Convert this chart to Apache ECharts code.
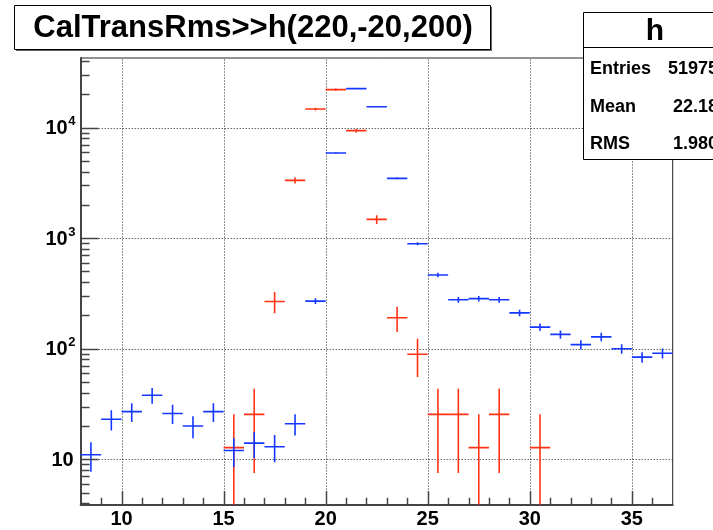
<!DOCTYPE html>
<html><head><meta charset="utf-8">
<script src="https://cdn.jsdelivr.net/npm/echarts@6/dist/echarts.min.js"></script>
<style>html,body{margin:0;padding:0;background:#fff}#c{width:713px;height:530px}</style>
</head><body><div id="c"></div>
<script>
// ---- data ----
const blueCenters = [8.5,9.5,10.5,11.5,12.5,13.5,14.5,15.5,16.5,17.5,18.5,19.5,20.5,21.5,22.5,23.5,24.5,25.5,26.5,27.5,28.5,29.5,30.5,31.5,32.5,33.5,34.5,35.5,36.5];
const blueValues  = [11,23,27,38,26,20,27,12,14,13,21,270,5900,22540,15490,3480,892,465,278,284,278,211,157,135,109,128,100,84,91];
const blueErrors  = [3.3,4.8,5.2,6.2,5.1,4.5,5.2,3.5,3.7,3.6,4.6,16.4,76.8,150,124.5,59,29.9,21.6,16.7,16.9,16.7,14.5,12.5,11.6,10.4,11.3,10,9.2,9.5];
const redCenters  = [15.5,16.5,17.5,18.5,19.5,20.5,21.5,22.5,23.5,24.5,25.5,26.5,27.5,28.5,30.5];
const redValues   = [12.75,25.5,268,3340,14750,22080,9400,1480,191,89.3,25.5,25.5,12.75,25.5,12.75];
const redErrors   = [12.75,18.0,58.4,206,434,531,346,137,49.4,33.7,18.0,18.0,12.75,18.0,12.75];
const xMajorTicks = [10,15,20,25,30,35];
const xMinorTicks = [9,11,12,13,14,16,17,18,19,21,22,23,24,26,27,28,29,31,32,33,34,36];
const yMajorTicks = [10,100,1000,10000];
const yMinorTicks = [4,5,6,7,8,9,20,30,40,50,60,70,80,90,200,300,400,500,600,700,800,900,2000,3000,4000,5000,6000,7000,8000,9000,20000,30000,40000];
const xTickLabels = ['10','15','20','25','30','35'];
const yTickBase   = ['10','10','10','10'];
const yTickExp    = ['','2','3','4'];
const titleText = 'CalTransRms>>h(220,-20,200)';
const statsName = 'h';
const statsLabels = ['Entries','Mean','RMS'];
const statsValues = ['51975','22.18','1.980'];
const X_MIN = 8, X_MAX = 37, Y_MIN = 3.9, Y_MAX = 42700;

const FONT = 'Liberation Sans, Arial, sans-serif';
const chart = echarts.init(document.getElementById('c'), null, {renderer:'canvas'});

function errRender(color){
  return function(params, api){
    const x = api.value(0), y = api.value(1), e = api.value(2);
    const lo = (y - e) > 0 ? (y - e) : Y_MIN * 0.2;
    const pL = api.coord([x - 0.5, y]), pR = api.coord([x + 0.5, y]);
    const pT = api.coord([x, y + e]), pB = api.coord([x, lo]);
    const st = {stroke: color, lineWidth: 1.6};
    return {type:'group', children:[
      {type:'line', shape:{x1:pL[0], y1:pL[1], x2:pR[0], y2:pR[1]}, style:st},
      {type:'line', shape:{x1:pT[0], y1:pT[1], x2:pB[0], y2:pB[1]}, style:st}
    ]};
  };
}

const gridStyle = {stroke:'#222', lineWidth:1, lineDash:[1,2]};
const tickStyle = {stroke:'#444', lineWidth:1.5};

const option = {
  animation:false,
  backgroundColor:'#fff',
  grid:{left:80.7, top:58, right:40.3, bottom:25.5, show:true, borderColor:'#222', borderWidth:1, backgroundColor:'transparent'},
  xAxis:{type:'value', min:X_MIN, max:X_MAX, splitLine:{show:false}, axisTick:{show:false}, axisLabel:{show:false},
    axisLine:{show:true, onZero:false, lineStyle:{color:'#444', width:2}}},
  yAxis:{type:'log', logBase:10, min:Y_MIN, max:Y_MAX, splitLine:{show:false}, axisTick:{show:false}, axisLabel:{show:false},
    minorTick:{show:false}, minorSplitLine:{show:false},
    axisLine:{show:true, onZero:false, lineStyle:{color:'#444', width:2}}},
  graphic:[
    {type:'rect', z:100, shape:{x:16, y:7, width:476, height:44}, style:{fill:'#666'}},
    {type:'rect', z:101, shape:{x:14.5, y:5.5, width:476, height:44}, style:{fill:'#fff', stroke:'#000', lineWidth:1}},
    {type:'text', z:102, x:253, y:28, style:{text:titleText, font:'bold 31px '+FONT, fill:'#000', align:'center', verticalAlign:'middle'}},
    {type:'rect', z:101, shape:{x:583.5, y:12.5, width:150, height:147}, style:{fill:'#fff', stroke:'#000', lineWidth:1}},
    {type:'line', z:102, shape:{x1:583.5, y1:47.5, x2:713, y2:47.5}, style:{stroke:'#000', lineWidth:1}},
    {type:'text', z:102, x:655, y:32, style:{text:statsName, font:'bold 30px '+FONT, fill:'#000', align:'center', verticalAlign:'middle'}},
  ].concat(statsLabels.map((t,i)=>({type:'text', z:102, x:590, y:69 + i*37.7, style:{text:t, font:'bold 18px '+FONT, fill:'#000', align:'left', verticalAlign:'middle'}})))
   .concat(statsValues.map((t,i)=>({type:'text', z:102, x:718, y:69 + i*37.7, style:{text:t, font:'bold 18px '+FONT, fill:'#000', align:'right', verticalAlign:'middle'}}))),
  series:[
    {type:'custom', name:'xgrid', z:1, silent:true, clip:true, data:xMajorTicks,
      renderItem:(p,api)=>{const v=api.value(0); const a=api.coord([v,Y_MIN]), b=api.coord([v,Y_MAX]);
        return {type:'line', shape:{x1:Math.round(a[0])+0.5,y1:a[1],x2:Math.round(b[0])+0.5,y2:b[1]}, style:gridStyle};}},
    {type:'custom', name:'ygrid', z:1, silent:true, clip:true, data:yMajorTicks,
      renderItem:(p,api)=>{const v=api.value(0); const a=api.coord([X_MIN,v]), b=api.coord([X_MAX,v]);
        return {type:'line', shape:{x1:a[0],y1:Math.round(a[1])+0.5,x2:b[0],y2:Math.round(b[1])+0.5}, style:gridStyle};}},
    {type:'custom', name:'red', z:3, silent:true, clip:true, renderItem:errRender('#ff3214'),
      data:redCenters.map((x,i)=>[x, redValues[i], redErrors[i]])},
    {type:'custom', name:'blue', z:4, silent:true, clip:true, renderItem:errRender('#1438ff'),
      data:blueCenters.map((x,i)=>[x, blueValues[i], blueErrors[i]])},
    {type:'custom', name:'xticks', z:5, silent:true, data:xMajorTicks.map(v=>[v,13.4]).concat(xMinorTicks.map(v=>[v,6.7])),
      renderItem:(p,api)=>{const a=api.coord([api.value(0),Y_MIN]); const L=api.value(1);
        return {type:'line', shape:{x1:Math.round(a[0])+0.5,y1:a[1],x2:Math.round(a[0])+0.5,y2:a[1]-L}, style:tickStyle};}},
    {type:'custom', name:'yticks', z:5, silent:true, data:yMajorTicks.map(v=>[v,17.8]).concat(yMinorTicks.map(v=>[v,8.9])),
      renderItem:(p,api)=>{const a=api.coord([X_MIN,api.value(0)]); const L=api.value(1);
        return {type:'line', shape:{x1:a[0],y1:Math.round(a[1])+0.5,x2:a[0]+L,y2:Math.round(a[1])+0.5}, style:tickStyle};}},
    {type:'custom', name:'xlabels', z:5, silent:true, data:xMajorTicks.map((v,i)=>[v,i]),
      renderItem:(p,api)=>{const i=api.value(1); const a=api.coord([api.value(0),Y_MIN]);
        return {type:'text', x:a[0], y:a[1]+15, style:{text:xTickLabels[i], font:'bold 20px '+FONT, fill:'#000', align:'center', verticalAlign:'middle'}};}},
    {type:'custom', name:'ylabels', z:5, silent:true, data:yMajorTicks.map((v,i)=>[v,i]),
      renderItem:(p,api)=>{const i=api.value(1); const a=api.coord([X_MIN,api.value(0)]);
        const exp=yTickExp[i];
        const children=[];
        if(exp){
          children.push({type:'text', x:a[0]-13, y:a[1]+1, style:{text:yTickBase[i], font:'bold 20px '+FONT, fill:'#000', align:'right', verticalAlign:'middle'}});
          children.push({type:'text', x:a[0]-12.5, y:a[1]-6, style:{text:exp, font:'bold 13px '+FONT, fill:'#000', align:'left', verticalAlign:'middle'}});
        } else {
          children.push({type:'text', x:a[0]-7, y:a[1]+1, style:{text:yTickBase[i], font:'bold 20px '+FONT, fill:'#000', align:'right', verticalAlign:'middle'}});
        }
        return {type:'group', children};}}
  ]
};
chart.setOption(option);
</script></body></html>
